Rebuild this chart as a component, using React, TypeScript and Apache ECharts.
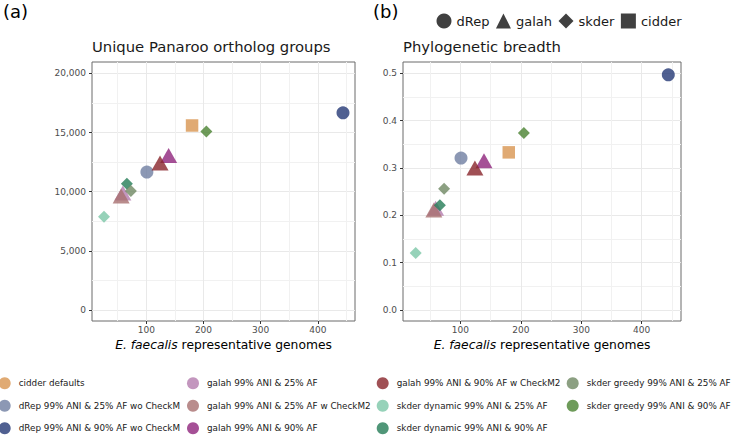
import React, { useEffect, useRef } from 'react';
import * as echarts from 'echarts';

const FONT = 'DejaVu Sans';

const methods = [
  'cidder defaults',
  'dRep 99% ANI & 25% AF wo CheckM',
  'dRep 99% ANI & 90% AF wo CheckM',
  'galah 99% ANI & 25% AF',
  'galah 99% ANI & 25% AF w CheckM2',
  'galah 99% ANI & 90% AF',
  'galah 99% ANI & 90% AF w CheckM2',
  'skder dynamic 99% ANI & 25% AF',
  'skder dynamic 99% ANI & 90% AF',
  'skder greedy 99% ANI & 25% AF',
  'skder greedy 99% ANI & 90% AF',
];
const methodColors = [
  '#D89550', '#6F7EA1', '#243875', '#B47CAE', '#A86F6F', '#8F247C',
  '#88242B', '#7CC7A8', '#247C56', '#6F8863', '#4A8231',
];
const genomes = [180, 101, 444, 59, 56, 139, 124, 26, 66, 73, 205];
const orthologGroups = [15600, 11660, 16670, 9890, 9640, 13070, 12420, 7870, 10680, 10060, 15090];
const phyloBreadth = [0.333, 0.321, 0.497, 0.215, 0.211, 0.315, 0.3, 0.12, 0.221, 0.256, 0.374];

const tools = ['dRep', 'galah', 'skder', 'cidder'];
const toolSymbols: Record<string, string> = { dRep: 'circle', galah: 'triangle', skder: 'diamond', cidder: 'rect' };
const toolSizes: Record<string, number[]> = { dRep: [13, 13], galah: [17, 15], skder: [12, 12], cidder: [12.5, 12.5] };

const xTicks = [100, 200, 300, 400];
const xMinorTicks = [50, 150, 250, 350, 450];
const orthoTicks = [0, 5000, 10000, 15000, 20000];
const orthoMinorTicks = [2500, 7500, 12500, 17500];
const breadthTicks = [0, 0.1, 0.2, 0.3, 0.4, 0.5];
const breadthMinorTicks = [0.05, 0.15, 0.25, 0.35, 0.45];

const panelTitles = ['Unique Panaroo ortholog groups', 'Phylogenetic breadth'];
const panelLabels = ['(a)', '(b)'];
const xTitle = '{i|E. faecalis} representative genomes';

export default function App() {
  const ref = useRef<HTMLDivElement>(null);
  useEffect(() => {
    if (!ref.current) return;
    const chart = echarts.init(ref.current, null, { renderer: 'svg' });

    const grids = [
      { left: 92, top: 62, width: 263, height: 259 },
      { left: 403, top: 62, width: 278, height: 259 },
    ].map((g) => ({ ...g, show: true, borderColor: '#6b6b6b', borderWidth: 1, backgroundColor: 'transparent' }));

    const xRange = { min: 5, max: 465 };
    const yRanges = [{ min: -940, max: 20970 }, { min: -0.0235, max: 0.524 }];

    const xAxes: any[] = [];
    const yAxes: any[] = [];
    [0, 1].forEach((gi) => {
      xAxes.push({
        type: 'value', gridIndex: gi, ...xRange, position: 'bottom',
        axisLine: { show: false, onZero: false },
        axisTick: { show: true, customValues: xTicks, length: 3, lineStyle: { color: '#333' } },
        axisLabel: { customValues: xTicks, color: '#4d4d4d', fontSize: 9, fontFamily: FONT, margin: 4 },
        splitLine: { show: true, lineStyle: { color: '#e9e9e9', width: 1 } },
        name: xTitle, nameLocation: 'middle', nameGap: 17,
        nameTextStyle: {
          fontSize: 12.3, color: '#000', fontFamily: FONT, verticalAlign: 'top',
          rich: { i: { fontStyle: 'italic', fontSize: 12.3, color: '#000', fontFamily: FONT } },
        },
      });
      xAxes.push({
        type: 'value', gridIndex: gi, ...xRange, position: 'top',
        axisLine: { show: false, onZero: false },
        axisTick: { show: false, customValues: xMinorTicks },
        axisLabel: { show: false, customValues: xMinorTicks },
        splitLine: { show: true, lineStyle: { color: '#f1f1f1', width: 1 } },
      });
      const yt = gi === 0 ? orthoTicks : breadthTicks;
      const ym = gi === 0 ? orthoMinorTicks : breadthMinorTicks;
      yAxes.push({
        type: 'value', gridIndex: gi, ...yRanges[gi], position: 'left',
        axisLine: { show: false, onZero: false },
        axisTick: { show: true, customValues: yt, length: 3, lineStyle: { color: '#333' } },
        axisLabel: {
          customValues: yt, color: '#4d4d4d', fontSize: 9, fontFamily: FONT, margin: 6,
          formatter: (v: number) => (gi === 0 ? Math.round(v).toLocaleString('en-US') : v.toFixed(1)),
        },
        splitLine: { show: true, lineStyle: { color: '#e9e9e9', width: 1 } },
      });
      yAxes.push({
        type: 'value', gridIndex: gi, ...yRanges[gi], position: 'right',
        axisLine: { show: false, onZero: false },
        axisTick: { show: false, customValues: ym },
        axisLabel: { show: false, customValues: ym },
        splitLine: { show: true, lineStyle: { color: '#f1f1f1', width: 1 } },
      });
    });

    const series: any[] = [];
    [0, 1].forEach((gi) => {
      const vals = gi === 0 ? orthologGroups : phyloBreadth;
      methods.forEach((m, i) => {
        const tool = m.split(' ')[0];
        series.push({
          type: 'scatter', name: m, xAxisIndex: gi * 2, yAxisIndex: gi * 2,
          data: [[genomes[i], vals[i]]],
          symbol: toolSymbols[tool], symbolSize: toolSizes[tool],
          itemStyle: { color: methodColors[i], opacity: 0.8 },
          emphasis: { disabled: true },
        });
      });
    });
    tools.forEach((t) => {
      series.push({
        type: 'scatter', name: t, xAxisIndex: 0, yAxisIndex: 0, data: [],
        symbol: toolSymbols[t], itemStyle: { color: '#404040', opacity: 1 },
      });
    });

    const colLefts = [-1.3, 187, 376.7, 566.7];
    const columns = [methods.slice(0, 3), methods.slice(3, 6), methods.slice(6, 9), methods.slice(9, 11)];
    const legends: any[] = columns.map((col, ci) => ({
      orient: 'vertical', left: colLefts[ci], top: 377.3, padding: 0,
      itemWidth: 18, itemHeight: 12, itemGap: 10.5, icon: 'circle',
      data: col, selectedMode: false,
      textStyle: { fontSize: 8.8, color: '#1a1a1a', fontFamily: FONT },
    }));
    legends.push({
      orient: 'horizontal', left: 436.5, top: 13.5, padding: 0,
      itemWidth: 15, itemHeight: 15, itemGap: 6.5, selectedMode: false,
      data: tools.map((t) => ({ name: t, icon: toolSymbols[t] })),
      textStyle: { fontSize: 13, color: '#1a1a1a', fontFamily: FONT },
    });

    chart.setOption({
      animation: false,
      textStyle: { fontFamily: FONT },
      grid: grids,
      xAxis: xAxes,
      yAxis: yAxes,
      title: [
        { text: panelTitles[0], left: 92, top: 39, padding: 0, textStyle: { fontSize: 14.8, fontWeight: 'normal', color: '#1a1a1a', fontFamily: FONT } },
        { text: panelTitles[1], left: 403, top: 39, padding: 0, textStyle: { fontSize: 14.8, fontWeight: 'normal', color: '#1a1a1a', fontFamily: FONT } },
      ],
      legend: legends,
      graphic: [
        { type: 'text', left: 3, top: 2, style: { text: panelLabels[0], fontSize: 18, fill: '#000', fontFamily: FONT } },
        { type: 'text', left: 373, top: 2, style: { text: panelLabels[1], fontSize: 18, fill: '#000', fontFamily: FONT } },
      ],
      series,
    });
    return () => chart.dispose();
  }, []);
  return <div ref={ref} style={{ position: 'absolute', left: 0, top: 0, width: 735, height: 436 }} />;
}
